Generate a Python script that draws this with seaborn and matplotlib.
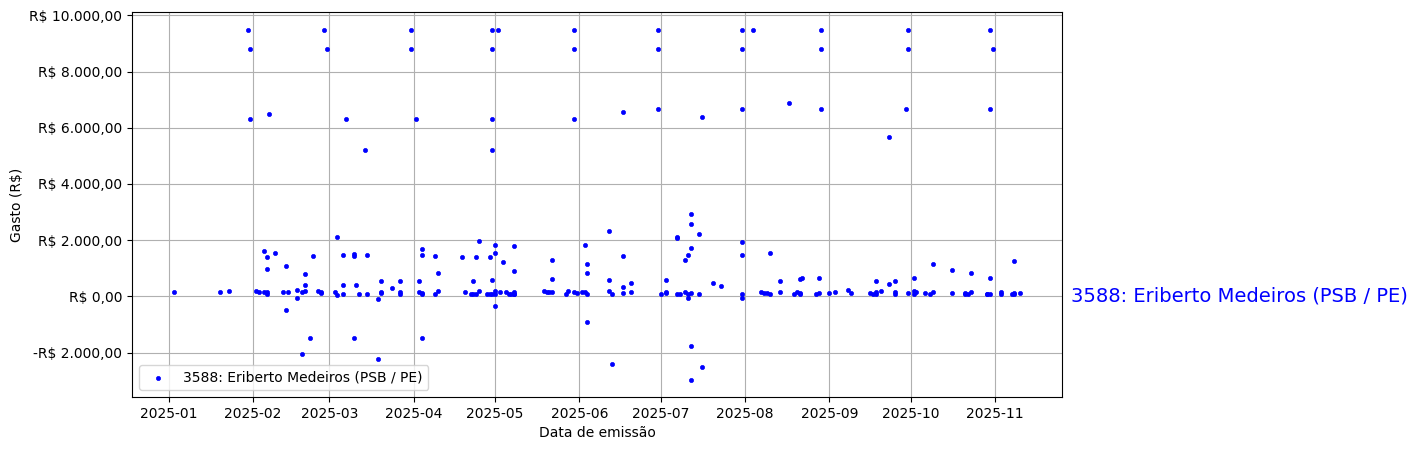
import matplotlib
matplotlib.use("Agg")
import matplotlib.pyplot as plt
import matplotlib.dates as mdates
import matplotlib.transforms as mtransforms
from matplotlib.ticker import FuncFormatter, MultipleLocator
import seaborn as sns
import pandas as pd

label = "3588: Eriberto Medeiros (PSB / PE)"

month_day = [
    "01-03", "01-20", "01-23", "01-30", "01-31", "01-31", "02-02", "02-03", "02-05", "02-06",
    "02-06", "02-05", "02-06", "02-06", "02-07", "02-09", "02-13", "02-13", "02-12", "02-14",
    "02-17", "02-17", "02-19", "02-20", "02-20", "02-20", "02-19", "02-23", "02-22", "02-25",
    "02-26", "02-26", "02-27", "02-28", "03-03", "03-04", "03-04", "03-06", "03-06", "03-06",
    "03-07", "03-10", "03-10", "03-10", "03-11", "03-12", "03-14", "03-15", "03-15", "03-19",
    "03-19", "03-20", "03-20", "03-20", "03-24", "03-27", "03-27", "03-27", "03-31", "03-31",
    "04-02", "04-03", "04-03", "04-04", "04-04", "04-04", "04-04", "04-04", "04-09", "04-10",
    "04-10", "04-09", "04-19", "04-20", "04-22", "04-23", "04-24", "04-23", "04-24", "04-25",
    "04-25", "04-28", "04-29", "04-29", "04-30", "05-02", "04-30", "04-30", "04-30", "05-01",
    "05-01", "04-30", "05-01", "05-01", "04-30", "05-01", "05-04", "05-03", "05-05", "05-06",
    "05-07", "05-08", "05-08", "05-08", "05-08", "05-08", "05-19", "05-20", "05-21", "05-22",
    "05-22", "05-22", "05-27", "05-28", "05-30", "05-31", "05-30", "05-30", "05-30", "06-02",
    "06-03", "06-03", "06-04", "06-04", "06-04", "06-04", "06-12", "06-12", "06-12", "06-13",
    "06-13", "06-17", "06-17", "06-17", "06-17", "06-20", "06-20", "06-30", "06-30", "06-30",
    "07-01", "07-03", "07-03", "07-03", "07-07", "07-07", "07-07", "07-08", "07-10", "07-10",
    "07-11", "07-12", "07-12", "07-12", "07-11", "07-11", "07-12", "07-12", "07-12", "07-15",
    "07-15", "07-16", "07-16", "07-20", "07-23", "07-31", "07-31", "07-31", "07-31", "07-31",
    "07-31", "07-31", "08-04", "08-07", "08-08", "08-09", "08-10", "08-10", "08-14", "08-14",
    "08-17", "08-19", "08-20", "08-21", "08-21", "08-21", "08-22", "08-27", "08-28", "08-28",
    "08-29", "08-29", "08-29", "09-01", "09-03", "09-08", "09-09", "09-16", "09-17", "09-18",
    "09-18", "09-20", "09-18", "09-23", "09-23", "09-25", "09-25", "09-25", "09-30", "09-30",
    "09-29", "09-30", "10-02", "10-02", "10-02", "10-03", "10-06", "10-08", "10-09", "10-09",
    "10-16", "10-16", "10-21", "10-21", "10-22", "10-23", "10-23", "10-30", "10-31", "10-30",
    "10-30", "10-29", "10-29", "10-30", "11-03", "11-03", "11-07", "11-08", "11-08", "11-08",
    "11-10",
]

values = [
    170, 170, 200, 9500, 8800, 6330, 200, 170, 170, 140,
    70, 1630, 1410, 990, 6500, 1560, 1090, -470, 170, 170,
    230, -50, 140, 175, 420, 810, -2040, 1450, -1470, 200,
    170, 130, 9500, 8800, 170, 2130, 50, 80, 1480, 420,
    6330, 1520, 1450, -1500, 420, 100, 5200, 1480, 80, -80,
    -2220, 560, 140, 110, 310, 560, 80, 170, 9500, 8800,
    6330, 560, 170, 110, 80, 1700, 1480, -1500, 1450, 840,
    200, 80, 1410, 170, 100, 100, 80, 560, 1410, 200,
    1980, 80, 100, 1410, 9500, 9500, 8800, 6330, 5200, 1840,
    1560, 600, 200, 80, 100, -330, 1240, 170, 150, 100,
    80, 80, 100, 170, 1800, 920, 200, 170, 170, 170,
    1310, 630, 80, 200, 170, 130, 9500, 8800, 6330, 170,
    170, 1840, 100, 1160, 840, -900, 2340, 590, 200, 100,
    -2400, 1450, 6570, 350, 130, 490, 170, 9500, 8800, 6680,
    80, 590, 170, 130, 2110, 2080, 80, 100, 1310, 170,
    1480, 1730, 2590, 2940, -50, 100, 130, -1760, -2960, 2230,
    100, 6400, -2500, 490, 380, 9500, 8800, 6680, 1950, 1480,
    100, -50, 9500, 170, 130, 130, 80, 1560, 560, 170,
    6890, 100, 170, 80, 130, 630, 670, 100, 130, 670,
    9500, 8800, 6680, 130, 170, 230, 130, 130, 80, 100,
    170, 200, 560, 5680, 450, 560, 170, 80, 9500, 8800,
    6680, 130, 670, 80, 200, 170, 130, 80, 170, 1160,
    950, 130, 130, 80, 100, 840, 170, 9500, 8800, 6680,
    670, 80, 80, 100, 170, 100, 80, 80, 1270, 130,
    130,
]

df = pd.DataFrame({
    "Data de emissão": pd.to_datetime(["2025-" + md for md in month_day]),
    "Gasto (R$)": values,
})

fig = plt.figure(figsize=(14.17, 4.5), dpi=100)
ax = fig.add_axes([132 / 1417, 1 - 397 / 450, (1062 - 132) / 1417, (397 - 12) / 450])

sns.scatterplot(data=df, x="Data de emissão", y="Gasto (R$)", color="blue",
                s=9, edgecolor="blue", linewidth=0.5, label=label, ax=ax)

ax.grid(True, color="#b0b0b0", linewidth=0.8)
ax.set_axisbelow(True)
ax.xaxis.set_major_locator(mdates.MonthLocator())
ax.xaxis.set_major_formatter(mdates.DateFormatter("%Y-%m"))
ax.yaxis.set_major_locator(MultipleLocator(2000))


def brl(v, pos):
    s = f"{abs(v):,.2f}".replace(",", "X").replace(".", ",").replace("X", ".")
    return ("-R$ " if v < 0 else "R$ ") + s


ax.yaxis.set_major_formatter(FuncFormatter(brl))
ax.set_xlabel("Data de emissão")
ax.set_ylabel("Gasto (R$)")
for sp in ax.spines.values():
    sp.set_color("black")
ax.legend(loc="lower left")

trans = mtransforms.blended_transform_factory(ax.transAxes, ax.transData)
ax.text(1.01, 0, label, transform=trans, color="blue", fontsize=14,
        ha="left", va="center")

fig.savefig("out.png", dpi=100)
